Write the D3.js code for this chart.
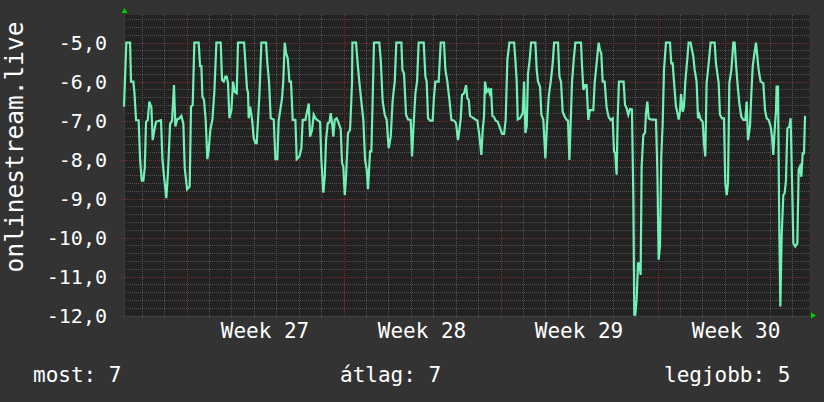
<!DOCTYPE html>
<html><head><meta charset="utf-8">
<script src="https://cdn.jsdelivr.net/npm/d3@7"></script>
<style>
html,body{margin:0;padding:0;background:#333333;}
svg{display:block;}
text{font-family:"DejaVu Sans Mono",monospace;fill:#ffffff;}
</style>
</head><body>
<svg id="chart" width="824" height="402"></svg>
<script>
// hours since Monday 00:00 of week 27, rank value (negative rank)
const rankSeries = [
[-66.9,-6.64],[-64.4,-5],[-60.4,-5],[-59.4,-6],[-56.9,-6],[-55.8,-6.26],[-54.0,-6.99],[-51.2,-6.99],[-49.7,-7.99],[-47.9,-8.54],[-46.2,-8.54],[-44.7,-8.22],[-43.3,-7.03],[-41.5,-6.99],[-39.8,-6.51],[-37.6,-6.66],[-36.2,-7.5],[-34.4,-7.24],[-32.6,-7.03],[-27.3,-6.99],[-25.8,-7.99],[-23.7,-8.52],[-21.6,-8.99],[-19.8,-8.31],[-17.6,-7.09],[-15.5,-7.0],[-13.4,-6.09],[-11.9,-7.15],[-10.1,-6.97],[-7.6,-6.94],[-5.5,-6.88],[-3.4,-7.07],[-1.9,-8.22],[0.6,-8.76],[3.4,-8.69],[4.8,-6.64],[6.6,-6.6],[8.4,-5],[13.0,-5],[14.5,-5.6],[15.9,-5.6],[17.0,-6.38],[18.7,-6.47],[20.5,-6.98],[22.3,-7.99],[23.7,-7.75],[25.5,-7.24],[27.7,-6.97],[29.8,-6.26],[32.0,-5],[36.6,-5],[38.0,-5.96],[39.8,-6.0],[41.6,-5.87],[43.0,-5.87],[44.4,-6.04],[45.9,-6.94],[48.0,-6.73],[49.8,-6.0],[51.6,-6.26],[53.7,-6.3],[55.1,-5],[61.6,-5],[63.0,-5.53],[64.8,-6.21],[65.8,-6.26],[66.5,-6.94],[68.0,-6.64],[70.1,-6.97],[71.9,-7.45],[73.7,-7.58],[75.1,-7.58],[76.5,-6.98],[78.0,-6.34],[80.1,-5],[85.1,-5],[86.5,-5.53],[88.3,-6.0],[90.1,-6.94],[93.3,-6.97],[95.1,-7.99],[97.2,-7.99],[98.6,-7.0],[102.2,-6.43],[103.6,-5.96],[105.1,-5],[106.5,-5.27],[108.3,-5.4],[110.1,-6.0],[111.8,-6.0],[113.6,-6.98],[116.5,-6.98],[117.9,-7.99],[120.8,-7.92],[122.9,-7.71],[124.3,-6.98],[127.2,-6.98],[129.0,-6.77],[130.8,-6.56],[132.2,-7.41],[134.3,-7.24],[136.1,-6.85],[137.9,-6.94],[140.7,-7.0],[142.9,-7.03],[144.3,-8.01],[146.4,-8.85],[147.9,-8.44],[149.3,-7.5],[151.1,-7.07],[152.9,-7.05],[154.3,-6.81],[155.7,-7.05],[157.1,-7.41],[158.6,-6.98],[160.7,-6.94],[162.9,-7.07],[165.0,-7.22],[166.4,-8.09],[167.8,-8.18],[169.3,-8.91],[170.7,-8.44],[172.8,-7.32],[175.0,-7.24],[177.1,-6.04],
[177.5,-5],[181.4,-5],[182.8,-5.44],[184.9,-6.0],[187.1,-6.51],[189.2,-6.98],[191.0,-7.99],[192.8,-8.26],[194.2,-8.76],[196.4,-7.79],[197.8,-7.79],[199.2,-6.43],[200.6,-5],[206.3,-5],[207.8,-5.43],[209.9,-6.51],[212.1,-6.85],[214.2,-6.98],[216.3,-7.71],[218.5,-7.41],[220.6,-6.47],[222.8,-6.0],[224.5,-5],[229.9,-5],[231.0,-5.7],[232.7,-5.79],[234.9,-6.85],[237.0,-6.97],[239.9,-6.98],[241.3,-7.92],[242.7,-7.24],[244.9,-6.3],[246.7,-6.0],[248.4,-5],[253.8,-5],[255.6,-5.87],[257.0,-6.0],[258.4,-6.94],[260.6,-7.0],[263.4,-7.0],[264.8,-6.38],[266.3,-6.0],[269.8,-6.0],[272.0,-5],[275.5,-5],[277.0,-5.7],[279.1,-6.0],[281.3,-6.47],[283.4,-6.98],[286.3,-7.0],[288.4,-7.07],[290.5,-7.5],[292.0,-7.24],[293.4,-6.94],[294.8,-6.34],[297.0,-6.3],[299.1,-6.09],[300.5,-6.43],[302.0,-6.47],[303.4,-6.88],[305.5,-6.91],[309.1,-6.97],[311.2,-7.0],[313.4,-7.39],[315.5,-7.88],[316.9,-7.24],[318.3,-6.9],[319.4,-6.0],[321.2,-6.26],[323.0,-6.2],[324.4,-6.3],[325.8,-6.17],[327.3,-6.88],[329.1,-6.91],[330.8,-7.0],[333.0,-7.03],[336.2,-7.24],[337.6,-7.34],[339.8,-7.34],[341.5,-6.98],[343.3,-5.44],[345.5,-5],[350.5,-5],[351.9,-5.44],[353.3,-6.0],[354.4,-6.97],[356.9,-6.94],[359.7,-6.81],[361.2,-6.0],[362.6,-7.32],[364.0,-7.15],[365.4,-5.79],[367.2,-5.44],[368.7,-5],[373.3,-5],[374.7,-5.7],[376.1,-6.0],[378.3,-6.13],[379.7,-6.85],[381.8,-6.98],[384.0,-7.97],[385.8,-7.07],[387.6,-6.38],[389.7,-6.0],[391.8,-5.53],[393.3,-5],[397.5,-5],[399.0,-5.87],[400.7,-6.0],[402.5,-6.77],[404.7,-6.9],[406.8,-6.98],[408.2,-7.0],[409.7,-8.01],[411.1,-7.03],[412.5,-6.0],[414.3,-5.44],[416.1,-5],
[422.1,-5],[423.1,-5.53],[424.6,-6.21],[426.7,-6.09],[428.1,-6.09],[429.9,-6.98],[431.7,-6.73],[435.3,-6.73],[436.7,-6.04],[438.8,-5.53],[441.0,-5],[442.4,-5.19],[443.8,-5.27],[445.3,-6.0],[447.4,-6.0],[449.5,-6.66],[451.7,-6.91],[453.8,-6.98],[456.0,-6.94],[457.4,-7.79],[458.8,-7.84],[460.2,-8.39],[461.3,-6.98],[462.7,-6.0],[467.7,-6.0],[469.2,-6.6],[470.9,-6.68],[472.7,-6.85],[474.5,-6.7],[476.6,-6.71],[478.1,-8.95],[479.1,-11.98],[480.2,-11.98],[481.6,-11.6],[483.1,-10.66],[484.5,-10.66],[485.9,-10.96],[487.0,-8.18],[488.8,-7.37],[490.6,-7.31],[491.6,-6.81],[493.1,-6.51],[494.5,-6.94],[496.6,-6.97],[502.3,-6.98],[503.8,-8.26],[505.2,-10.57],[506.6,-10.23],[508.0,-7.92],[509.5,-7.07],[510.9,-5.7],[513.0,-5],[517.3,-5],[518.7,-5.53],[520.2,-5.53],[521.6,-6.0],[523.7,-6.64],[525.2,-6.79],[526.6,-6.97],[528.0,-6.77],[529.1,-6.32],[530.9,-6.77],[532.3,-6.64],[533.7,-6.0],[535.1,-5.62],[537.3,-5],[539.4,-5],[540.9,-5.19],[542.3,-5.36],[543.7,-5.7],[545.8,-6.0],[547.3,-6.94],[548.7,-6.85],[550.1,-6.97],[552.3,-7.03],[553.7,-7.58],[555.1,-7.92],[556.5,-6.04],[558.7,-5.53],[560.8,-5],[565.1,-5],[566.5,-5.53],[568.0,-5.79],[569.4,-6.04],[570.8,-6.85],[573.0,-6.94],[575.1,-6.94],[576.5,-8.61],[578.0,-8.91],[579.4,-8.61],[580.8,-6.04],[583.0,-5.7],[585.1,-5],[586.5,-5],[587.9,-5.53],[589.4,-6.0],[591.5,-6.56],[593.6,-6.9],[595.8,-6.98],[597.9,-6.98],[599.4,-6.51],[600.8,-7.5],[602.9,-7.15],[604.3,-6.34],[605.8,-5.62],[607.2,-5.36],[609.3,-5],[610.8,-5.36],[612.2,-5.7],[614.3,-6.0],[617.2,-6.04],[619.0,-6.73],[620.8,-6.94],[622.9,-6.98],[625.0,-7.15],[626.5,-7.41],[627.9,-7.88],[629.3,-7.24],[630.7,-6.77],[631.4,-6.13],[632.9,-6.13],[634.3,-9.8],[635.4,-11.77],[636.8,-9.97],[638.6,-8.91],[640.0,-8.86],[641.4,-8.56],[642.9,-7.2],[645.0,-7.15],[646.4,-6.94],[647.9,-8.52],[649.3,-10.15],[651.4,-10.23],[653.6,-10.15],[655.0,-8.26],[656.4,-8.18],[657.9,-8.44],[659.3,-7.84],[660.7,-7.84],[661.8,-6.9],[662.8,-6.9]
];
const timeDomain = [-66.9, 666.6];           // hours shown
const valueDomain = [-12, -4.29];
const yTickValues = [-5, -6, -7, -8, -9, -10, -11, -12];
const weekStartHours = [0, 168, 336, 504];
const weekLabels = ["Week 27", "Week 28", "Week 29", "Week 30"];
const yTitle = "onlinestream.live";
const legendNames = ["most", "átlag", "legjobb"];
const legendValues = [7, 7, 5];

const svg = d3.select("#chart");
const L = 124, R = 809.5, T = 15, B = 315.5;
const x = d3.scaleLinear().domain(timeDomain).range([L, R]);
const y = d3.scaleLinear().domain(valueDomain).range([B, T]);

svg.append("rect").attr("width", 824).attr("height", 402).attr("fill", "#333333");
svg.append("rect").attr("x", L).attr("y", T).attr("width", R - L).attr("height", B - T).attr("fill", "#222222");

const grid = svg.append("g").attr("shape-rendering", "crispEdges");
const minorY = d3.range(-120, -42, 2).map(v => v / 10).filter(v => Math.abs(v - Math.round(v)) > 1e-6);
grid.selectAll(".hmin").data(minorY).join("line")
  .attr("x1", L).attr("x2", R).attr("y1", d => Math.round(y(d)) + 0.5).attr("y2", d => Math.round(y(d)) + 0.5)
  .attr("stroke", "#535353").attr("stroke-dasharray", "1,1");
const dayHours = d3.range(-48, 667, 24).filter(h => h % 168 !== 0);
grid.selectAll(".vmin").data(dayHours).join("line")
  .attr("y1", T).attr("y2", B + 2).attr("x1", d => Math.round(x(d)) + 0.5).attr("x2", d => Math.round(x(d)) + 0.5)
  .attr("stroke", "#535353").attr("stroke-dasharray", "1,1");
grid.selectAll(".hmaj").data(yTickValues).join("line")
  .attr("x1", L - 3).attr("x2", R).attr("y1", d => Math.round(y(d)) + 0.5).attr("y2", d => Math.round(y(d)) + 0.5)
  .attr("stroke", "#7a2e2e").attr("stroke-dasharray", "1,1");
grid.selectAll(".vmaj").data(weekStartHours).join("line")
  .attr("y1", T).attr("y2", B + 3).attr("x1", d => Math.round(x(d)) + 0.5).attr("x2", d => Math.round(x(d)) + 0.5)
  .attr("stroke", "#7a2e2e").attr("stroke-dasharray", "1,1");
grid.append("line").attr("x1", L + 0.5).attr("x2", L + 0.5).attr("y1", T).attr("y2", B + 1).attr("stroke", "#3c3c3c");
grid.append("line").attr("x1", L).attr("x2", R).attr("y1", B + 0.5).attr("y2", B + 0.5).attr("stroke", "#3c3c3c");

const line = d3.line().x(d => x(d[0])).y(d => y(d[1]));
svg.append("path").datum(rankSeries).attr("d", line)
  .attr("fill", "none").attr("stroke", "#72f0b6").attr("stroke-width", 2.2).attr("stroke-linejoin", "miter");

svg.append("path").attr("d", `M${L - 2.5},13 L${L + 3.5},13 L${L + 0.5},8 Z`).attr("fill", "#00d000");
svg.append("path").attr("d", `M811,${B - 3} L811,${B + 3} L816,${B} Z`).attr("fill", "#00d000");

const fmt = v => d3.format(".1f")(v).replace(".", ",").replace("−", "-");
svg.selectAll(".ytl").data(yTickValues).join("text")
  .attr("x", 107).attr("y", d => y(d)).attr("dy", "0.36em")
  .attr("text-anchor", "end").attr("font-size", 20).text(fmt);

svg.selectAll(".wk").data(weekStartHours).join("text")
  .attr("x", d => x(d + 84)).attr("y", 338).attr("text-anchor", "middle").attr("font-size", 21)
  .text((d, i) => weekLabels[i]);

svg.append("text").attr("transform", "translate(23,147) rotate(-90)").attr("text-anchor", "middle")
  .attr("font-size", 24.5).text(yTitle);

const legendX = [33, 340, 664];
svg.selectAll(".lg").data(legendNames).join("text")
  .attr("x", (d, i) => legendX[i]).attr("y", 382).attr("font-size", 21)
  .text((d, i) => `${d}: ${legendValues[i]}`);
</script>
</body></html>
